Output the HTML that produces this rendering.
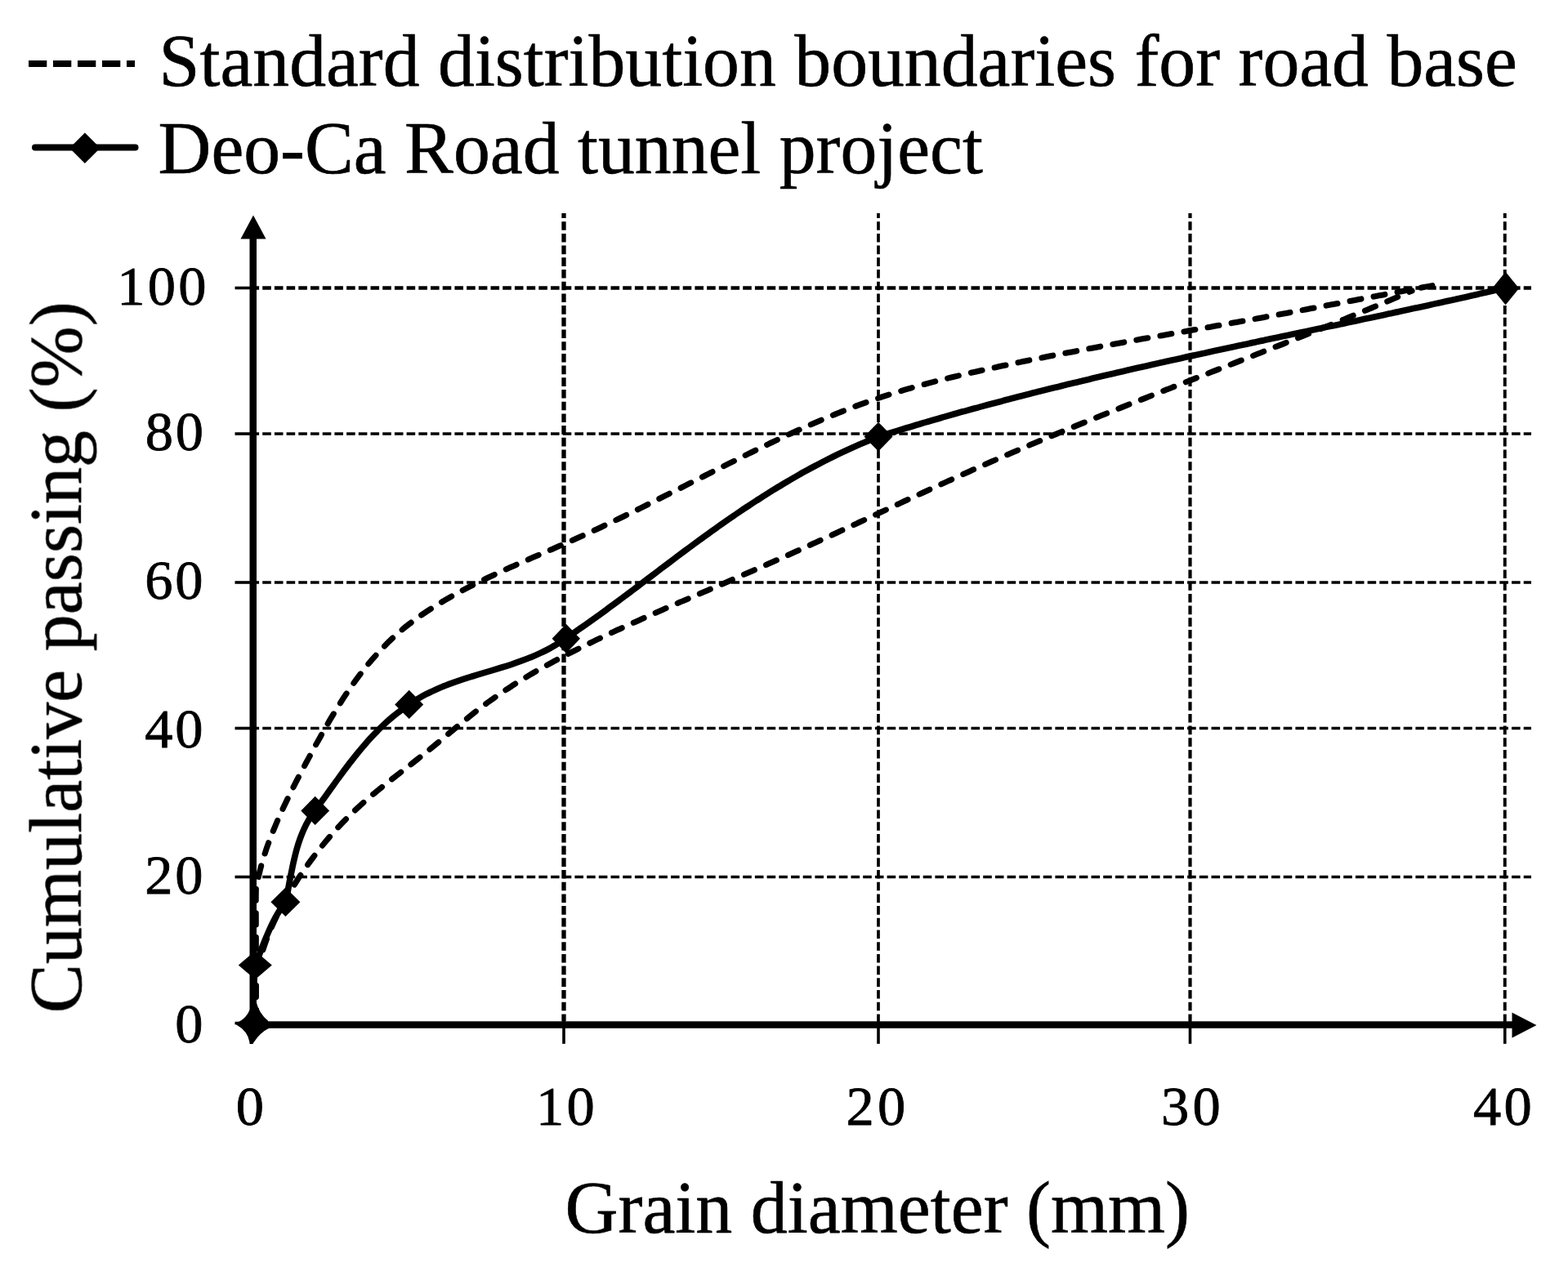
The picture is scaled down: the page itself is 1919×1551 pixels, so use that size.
<!DOCTYPE html>
<html lang="en"><head><meta charset="utf-8"><title>Grain size distribution</title>
<style>html,body{margin:0;padding:0;background:#fff}body{width:1919px;height:1551px;overflow:hidden}svg{display:block}text{font-family:"Liberation Serif",serif;fill:#000}</style>
</head><body>
<svg width="1919" height="1551" viewBox="0 0 1919 1551">
<defs><filter id="soft" x="0" y="0" width="1919" height="1551" filterUnits="userSpaceOnUse" color-interpolation-filters="sRGB"><feGaussianBlur stdDeviation="0.75"/></filter></defs>
<rect width="1919" height="1551" fill="#fff"/>
<g id="chart" filter="url(#soft)">
<g id="legend">
<line x1="35" y1="77.9" x2="165" y2="77.9" stroke="#000" stroke-width="8" stroke-dasharray="22.3 7.7"/>
<line x1="43" y1="180.5" x2="165.5" y2="180.5" stroke="#000" stroke-width="8" stroke-linecap="round"/>
<g fill="#000"><path d="M103.9 162.4 L122.7 181.2 L103.9 200.0 L85.1 181.2 Z"/></g>
<text transform="translate(194.60 104.60) scale(1 1.01)" font-size="89.75" stroke="#000" stroke-width="0.6" stroke-linejoin="round">Standard distribution boundaries for road base</text>
<text transform="translate(193.60 212.30) scale(1 1.01)" font-size="89.75" stroke="#000" stroke-width="0.6" stroke-linejoin="round">Deo-Ca Road tunnel project</text>
</g>
<g id="grid" stroke="#000" stroke-width="3.2" fill="none" stroke-dasharray="10.6 4.1">
<line x1="690.00" y1="261" x2="690.00" y2="1250" stroke-dashoffset="4.5" stroke-width="5.3"/>
<line x1="1075.00" y1="261" x2="1075.00" y2="1250" stroke-dashoffset="4.5" stroke-width="3.7"/>
<line x1="1456.50" y1="261" x2="1456.50" y2="1250" stroke-dashoffset="4.5" stroke-width="4.2"/>
<line x1="1841.75" y1="261" x2="1841.75" y2="1250" stroke-dashoffset="4.5" stroke-width="3.9"/>
<line x1="306.5" y1="352.50" x2="1874" y2="352.50" stroke-width="4.5"/>
<line x1="306.5" y1="531.00" x2="1874" y2="531.00" stroke-width="3.5"/>
<line x1="306.5" y1="713.00" x2="1874" y2="713.00" stroke-width="3.3"/>
<line x1="306.5" y1="891.50" x2="1874" y2="891.50" stroke-width="3.3"/>
<line x1="306.5" y1="1073.50" x2="1874" y2="1073.50" stroke-width="3.3"/>
</g>
<g id="ticks" stroke="#000" stroke-width="3.6" fill="none">
<line x1="287.5" y1="352.50" x2="310" y2="352.50" />
<line x1="287.5" y1="531.00" x2="310" y2="531.00" />
<line x1="287.5" y1="713.00" x2="310" y2="713.00" />
<line x1="287.5" y1="891.50" x2="310" y2="891.50" />
<line x1="287.5" y1="1073.50" x2="310" y2="1073.50" />
<line x1="287.5" y1="1252.50" x2="310" y2="1252.50" />
<line x1="307.50" y1="1250" x2="307.50" y2="1277.8" />
<line x1="690.00" y1="1250" x2="690.00" y2="1277.8" />
<line x1="1075.00" y1="1250" x2="1075.00" y2="1277.8" />
<line x1="1456.50" y1="1250" x2="1456.50" y2="1277.8" />
<line x1="1841.75" y1="1250" x2="1841.75" y2="1277.8" />
</g>
<g id="axes" stroke="#000" stroke-width="8.5" fill="none">
<line x1="309.75" y1="288" x2="309.75" y2="1258.6" />
<line x1="305.65" y1="1254.5" x2="1853" y2="1254.5" />
</g>
<g id="arrows" fill="#000">
<path d="M310.00 263.5 L325.5 292.5 L294.5 292.5 Z"/>
<path d="M1880.5 1255 L1850.5 1239.5 L1850.5 1270.5 Z"/>
</g>
<g id="ylabels">
<text transform="translate(143.20 372.90)" font-size="68.5" letter-spacing="3.25" stroke="#000" stroke-width="0.8" stroke-linejoin="round">100</text>
<text transform="translate(177.80 551.00)" font-size="68.5" letter-spacing="2.75" stroke="#000" stroke-width="0.8" stroke-linejoin="round">80</text>
<text transform="translate(177.30 733.30)" font-size="68.5" letter-spacing="2.75" stroke="#000" stroke-width="0.8" stroke-linejoin="round">60</text>
<text transform="translate(177.30 915.10)" font-size="68.5" letter-spacing="2.75" stroke="#000" stroke-width="0.8" stroke-linejoin="round">40</text>
<text transform="translate(177.30 1094.20)" font-size="68.5" letter-spacing="2.75" stroke="#000" stroke-width="0.8" stroke-linejoin="round">20</text>
<text transform="translate(214.30 1276.10)" font-size="68.5" stroke="#000" stroke-width="0.8" stroke-linejoin="round">0</text>
</g>
<g id="xlabels">
<text transform="translate(288.65 1376.80)" font-size="68.5" stroke="#000" stroke-width="0.8" stroke-linejoin="round">0</text>
<text transform="translate(655.90 1376.80)" font-size="68.5" letter-spacing="3.25" stroke="#000" stroke-width="0.8" stroke-linejoin="round">10</text>
<text transform="translate(1035.40 1376.80)" font-size="68.5" letter-spacing="4.25" stroke="#000" stroke-width="0.8" stroke-linejoin="round">20</text>
<text transform="translate(1420.90 1376.80)" font-size="68.5" letter-spacing="4.25" stroke="#000" stroke-width="0.8" stroke-linejoin="round">30</text>
<text transform="translate(1802.90 1376.80)" font-size="68.5" letter-spacing="3.25" stroke="#000" stroke-width="0.8" stroke-linejoin="round">40</text>
</g>
<text transform="translate(1073.75 1508.90) scale(1 1.01)" font-size="90" text-anchor="middle" stroke="#000" stroke-width="0.6" stroke-linejoin="round">Grain diameter (mm)</text>
<text transform="translate(99.00 804.75) rotate(-90) scale(1 1.01)" font-size="90.1" text-anchor="middle" stroke="#000" stroke-width="0.6" stroke-linejoin="round">Cumulative passing (%)</text>
<g id="curves" fill="none" stroke="#000" stroke-linejoin="round">
<path d="M313.3 1254.0 C313.3 1236.7 313.3 1177.3 313.3 1150.0 C313.3 1122.7 313.0 1102.0 313.3 1090.0 C313.6 1078.0 314.6 1082.1 315.4 1078.2 C316.1 1074.2 317.0 1070.3 318.0 1066.5 C318.9 1062.6 319.9 1058.8 321.0 1055.0 C322.1 1051.1 323.3 1047.3 324.6 1043.6 C325.8 1039.8 327.1 1036.0 328.5 1032.3 C329.8 1028.6 331.2 1024.9 332.7 1021.1 C334.2 1017.4 335.7 1013.8 337.3 1010.1 C338.8 1006.4 340.4 1002.7 342.1 999.1 C343.7 995.4 345.4 991.8 347.1 988.1 C348.8 984.5 350.5 980.9 352.3 977.2 C354.0 973.6 355.8 970.0 357.6 966.4 C359.5 962.8 361.3 959.2 363.1 955.6 C365.0 952.0 366.9 948.4 368.8 944.8 C370.7 941.2 372.6 937.6 374.5 934.0 C376.4 930.5 378.4 926.9 380.3 923.3 C382.2 919.7 384.2 916.1 386.1 912.6 C388.1 909.0 390.1 905.4 392.1 901.9 C394.0 898.3 396.0 894.8 398.1 891.3 C400.1 887.7 402.1 884.2 404.2 880.7 C406.3 877.2 408.3 873.7 410.5 870.3 C412.6 866.8 414.7 863.4 416.9 860.0 C419.0 856.6 421.2 853.2 423.5 849.8 C425.7 846.5 428.0 843.1 430.3 839.9 C432.6 836.6 434.9 833.3 437.3 830.1 C439.7 826.9 442.1 823.7 444.6 820.6 C447.0 817.4 449.5 814.3 452.1 811.3 C454.6 808.2 457.2 805.2 459.9 802.3 C462.5 799.3 465.2 796.4 468.0 793.5 C470.7 790.7 473.5 787.9 476.3 785.1 C479.2 782.4 482.0 779.7 485.0 777.1 C487.9 774.4 490.9 771.9 494.0 769.3 C497.0 766.8 500.2 764.4 503.3 762.0 C506.5 759.6 509.7 757.2 512.9 754.9 C516.1 752.6 519.4 750.4 522.7 748.2 C526.1 746.0 529.4 743.9 532.8 741.8 C536.2 739.6 539.6 737.6 543.1 735.6 C546.5 733.5 550.0 731.5 553.5 729.6 C557.0 727.6 560.5 725.7 564.1 723.8 C567.6 721.9 571.2 720.1 574.8 718.2 C578.3 716.4 581.9 714.6 585.6 712.8 C589.2 711.0 592.8 709.3 596.4 707.5 C600.1 705.8 603.7 704.1 607.4 702.4 C611.1 700.7 614.8 699.0 618.4 697.3 C622.1 695.7 625.8 694.0 629.5 692.4 C633.2 690.7 636.9 689.1 640.6 687.5 C644.4 685.8 648.1 684.2 651.8 682.6 C655.5 681.0 659.2 679.4 663.0 677.8 C666.7 676.2 670.4 674.6 674.1 673.0 C677.8 671.4 681.5 669.7 685.3 668.1 C689.0 666.5 692.7 664.9 696.4 663.2 C700.1 661.6 703.8 660.0 707.5 658.3 C711.1 656.7 714.8 655.0 718.5 653.3 C722.1 651.6 725.8 650.0 729.5 648.3 C733.1 646.6 736.8 644.8 740.4 643.1 C744.0 641.4 747.7 639.7 751.3 637.9 C754.9 636.2 758.5 634.5 762.1 632.7 C765.8 630.9 769.4 629.2 773.0 627.4 C776.6 625.6 780.2 623.9 783.8 622.1 C787.4 620.3 791.0 618.5 794.5 616.7 C798.1 614.9 801.7 613.1 805.3 611.3 C808.9 609.5 812.5 607.7 816.0 605.9 C819.6 604.1 823.2 602.3 826.8 600.5 C830.4 598.7 833.9 596.9 837.5 595.1 C841.1 593.2 844.7 591.4 848.2 589.6 C851.8 587.8 855.4 586.0 859.0 584.2 C862.5 582.3 866.1 580.5 869.7 578.7 C873.3 576.9 876.9 575.1 880.5 573.3 C884.0 571.5 887.6 569.7 891.2 567.9 C894.8 566.1 898.4 564.3 902.0 562.5 C905.6 560.7 909.2 558.9 912.8 557.1 C916.4 555.3 920.0 553.5 923.6 551.8 C927.3 550.0 930.9 548.2 934.5 546.5 C938.1 544.7 941.8 543.0 945.4 541.2 C949.1 539.5 952.7 537.8 956.4 536.1 C960.0 534.4 963.7 532.7 967.3 531.0 C971.0 529.3 974.6 527.6 978.3 526.0 C982.0 524.3 985.7 522.6 989.4 521.0 C993.1 519.4 996.8 517.8 1000.5 516.2 C1004.2 514.6 1007.9 513.0 1011.6 511.5 C1015.3 509.9 1019.0 508.4 1022.7 506.9 C1026.5 505.3 1030.2 503.9 1034.0 502.4 C1037.7 500.9 1041.5 499.5 1045.2 498.0 C1049.0 496.6 1052.8 495.2 1056.5 493.9 C1060.3 492.5 1064.1 491.1 1067.9 489.8 C1071.7 488.5 1075.5 487.2 1079.3 485.9 C1083.1 484.7 1086.9 483.4 1090.8 482.2 C1094.6 481.0 1098.4 479.9 1102.3 478.7 C1106.1 477.5 1110.0 476.4 1113.8 475.3 C1117.7 474.2 1121.6 473.1 1125.4 472.0 C1129.3 471.0 1133.2 469.9 1137.1 468.9 C1141.0 467.9 1144.9 466.8 1148.8 465.9 C1152.6 464.9 1156.5 463.9 1160.5 462.9 C1164.4 462.0 1168.3 461.0 1172.2 460.1 C1176.1 459.2 1180.0 458.2 1183.9 457.3 C1187.8 456.4 1191.8 455.5 1195.7 454.7 C1199.6 453.8 1203.5 452.9 1207.5 452.0 C1211.4 451.2 1215.3 450.3 1219.3 449.5 C1223.2 448.6 1227.1 447.8 1231.1 447.0 C1235.0 446.1 1238.9 445.3 1242.9 444.5 C1246.8 443.7 1250.7 442.8 1254.7 442.0 C1258.6 441.2 1262.6 440.4 1266.5 439.6 C1270.4 438.8 1274.4 438.1 1278.3 437.3 C1282.3 436.5 1286.2 435.7 1290.2 434.9 C1294.1 434.2 1298.1 433.4 1302.0 432.6 C1306.0 431.9 1309.9 431.1 1313.9 430.4 C1317.8 429.6 1321.8 428.9 1325.7 428.1 C1329.7 427.4 1333.6 426.6 1337.6 425.9 C1341.5 425.2 1345.5 424.4 1349.5 423.7 C1353.4 423.0 1357.4 422.3 1361.3 421.5 C1365.3 420.8 1369.2 420.1 1373.2 419.4 C1377.2 418.7 1381.1 418.0 1385.1 417.2 C1389.0 416.5 1393.0 415.8 1397.0 415.1 C1400.9 414.4 1404.9 413.7 1408.8 413.0 C1412.8 412.3 1416.8 411.6 1420.7 410.9 C1424.7 410.2 1428.7 409.5 1432.6 408.8 C1436.6 408.1 1440.5 407.4 1444.5 406.7 C1448.5 406.0 1452.4 405.3 1456.4 404.6 C1460.3 403.9 1464.3 403.2 1468.3 402.5 C1472.2 401.8 1476.2 401.1 1480.2 400.4 C1484.1 399.7 1488.1 399.0 1492.0 398.3 C1496.0 397.6 1500.0 396.9 1503.9 396.2 C1507.9 395.5 1511.8 394.7 1515.8 394.0 C1519.8 393.3 1523.7 392.6 1527.7 391.9 C1531.6 391.2 1535.6 390.5 1539.6 389.7 C1543.5 389.0 1547.5 388.3 1551.4 387.6 C1555.4 386.8 1559.3 386.1 1563.3 385.4 C1567.2 384.6 1571.2 383.9 1575.2 383.2 C1579.1 382.4 1583.1 381.7 1587.0 380.9 C1591.0 380.2 1594.9 379.5 1598.9 378.7 C1602.8 378.0 1606.8 377.2 1610.7 376.5 C1614.7 375.7 1618.6 375.0 1622.6 374.2 C1626.5 373.5 1630.5 372.7 1634.4 372.0 C1638.4 371.2 1642.3 370.5 1646.3 369.7 C1650.2 369.0 1654.2 368.2 1658.1 367.4 C1662.1 366.7 1666.0 365.9 1670.0 365.2 C1673.9 364.4 1677.9 363.7 1681.8 362.9 C1685.8 362.2 1689.7 361.4 1693.7 360.7 C1697.6 359.9 1701.6 359.2 1705.5 358.4 C1709.5 357.7 1713.4 356.9 1717.4 356.2 C1721.4 355.5 1725.3 354.7 1729.3 354.0 C1733.2 353.3 1737.2 352.5 1741.1 351.8 C1745.1 351.1 1751.0 350.0 1753.0 349.6" stroke-width="7.1" stroke-dasharray="14 15.5" stroke-linecap="round" stroke-dashoffset="-4"/>
<path d="M313.3 1254.0 C313.3 1245.0 313.0 1210.9 313.3 1200.0 C313.6 1189.1 314.5 1192.3 315.2 1188.4 C316.0 1184.5 316.8 1180.7 317.8 1176.9 C318.7 1173.1 319.8 1169.3 321.0 1165.5 C322.1 1161.7 323.4 1157.9 324.7 1154.2 C326.0 1150.4 327.5 1146.7 329.0 1143.0 C330.5 1139.3 332.0 1135.6 333.7 1132.0 C335.3 1128.3 337.1 1124.7 338.8 1121.1 C340.6 1117.4 342.5 1113.9 344.4 1110.3 C346.3 1106.7 348.2 1103.2 350.2 1099.7 C352.2 1096.2 354.3 1092.7 356.4 1089.3 C358.5 1085.8 360.6 1082.4 362.8 1079.0 C364.9 1075.7 367.1 1072.3 369.4 1069.0 C371.6 1065.7 373.9 1062.4 376.2 1059.1 C378.5 1055.9 380.9 1052.7 383.3 1049.5 C385.6 1046.3 388.1 1043.1 390.5 1040.0 C393.0 1036.9 395.5 1033.8 398.1 1030.7 C400.6 1027.7 403.2 1024.7 405.8 1021.7 C408.4 1018.7 411.1 1015.7 413.8 1012.8 C416.5 1009.9 419.2 1007.0 422.0 1004.2 C424.8 1001.4 427.6 998.6 430.5 995.8 C433.3 993.0 436.2 990.3 439.2 987.6 C442.1 984.9 445.1 982.2 448.1 979.6 C451.1 977.0 454.2 974.4 457.3 971.8 C460.3 969.3 463.4 966.7 466.6 964.2 C469.7 961.7 472.8 959.2 476.0 956.7 C479.1 954.2 482.3 951.7 485.5 949.2 C488.7 946.8 491.9 944.3 495.0 941.8 C498.2 939.3 501.4 936.9 504.6 934.4 C507.8 931.9 510.9 929.4 514.1 926.9 C517.2 924.4 520.4 921.9 523.5 919.4 C526.6 916.9 529.7 914.3 532.8 911.7 C535.9 909.2 539.0 906.6 542.1 904.0 C545.2 901.5 548.2 898.9 551.3 896.3 C554.4 893.7 557.4 891.2 560.5 888.6 C563.6 886.1 566.7 883.5 569.8 881.0 C572.9 878.5 576.0 876.0 579.1 873.5 C582.2 871.0 585.4 868.6 588.6 866.1 C591.7 863.7 594.9 861.4 598.2 859.0 C601.4 856.7 604.7 854.4 607.9 852.1 C611.2 849.8 614.5 847.6 617.8 845.4 C621.2 843.1 624.5 841.0 627.9 838.8 C631.3 836.7 634.6 834.6 638.1 832.5 C641.5 830.4 644.9 828.3 648.3 826.3 C651.8 824.2 655.3 822.2 658.7 820.2 C662.2 818.3 665.7 816.3 669.2 814.4 C672.7 812.4 676.3 810.5 679.8 808.6 C683.3 806.7 686.9 804.9 690.5 803.0 C694.0 801.2 697.6 799.3 701.2 797.5 C704.8 795.7 708.3 793.9 711.9 792.1 C715.5 790.3 719.2 788.6 722.8 786.8 C726.4 785.0 730.0 783.3 733.6 781.6 C737.2 779.9 740.9 778.1 744.5 776.4 C748.1 774.7 751.8 773.0 755.4 771.3 C759.1 769.7 762.7 768.0 766.4 766.3 C770.0 764.7 773.7 763.0 777.3 761.4 C781.0 759.7 784.6 758.1 788.3 756.4 C791.9 754.8 795.6 753.2 799.3 751.6 C802.9 749.9 806.6 748.3 810.3 746.7 C813.9 745.1 817.6 743.5 821.3 741.9 C825.0 740.3 828.6 738.7 832.3 737.1 C836.0 735.5 839.7 734.0 843.3 732.4 C847.0 730.8 850.7 729.2 854.4 727.6 C858.1 726.0 861.7 724.5 865.4 722.9 C869.1 721.3 872.8 719.7 876.5 718.1 C880.1 716.5 883.8 715.0 887.5 713.4 C891.2 711.8 894.8 710.2 898.5 708.6 C902.2 707.0 905.9 705.4 909.5 703.8 C913.2 702.2 916.9 700.6 920.6 699.0 C924.2 697.4 927.9 695.8 931.6 694.2 C935.2 692.6 938.9 691.0 942.5 689.3 C946.2 687.7 949.9 686.1 953.5 684.4 C957.2 682.8 960.8 681.2 964.5 679.5 C968.1 677.9 971.8 676.2 975.4 674.6 C979.1 672.9 982.7 671.2 986.4 669.6 C990.0 667.9 993.6 666.2 997.3 664.6 C1000.9 662.9 1004.6 661.2 1008.2 659.5 C1011.8 657.8 1015.5 656.2 1019.1 654.5 C1022.7 652.8 1026.4 651.1 1030.0 649.4 C1033.7 647.7 1037.3 646.0 1040.9 644.3 C1044.6 642.6 1048.2 641.0 1051.8 639.3 C1055.5 637.6 1059.1 635.9 1062.7 634.2 C1066.3 632.5 1070.0 630.8 1073.6 629.1 C1077.2 627.4 1080.9 625.7 1084.5 624.0 C1088.1 622.3 1091.8 620.6 1095.4 618.9 C1099.0 617.2 1102.7 615.5 1106.3 613.8 C1109.9 612.1 1113.6 610.4 1117.2 608.8 C1120.8 607.1 1124.5 605.4 1128.1 603.7 C1131.8 602.0 1135.4 600.3 1139.0 598.7 C1142.7 597.0 1146.3 595.3 1150.0 593.6 C1153.6 592.0 1157.3 590.3 1160.9 588.6 C1164.6 587.0 1168.2 585.3 1171.8 583.7 C1175.5 582.0 1179.2 580.3 1182.8 578.7 C1186.5 577.1 1190.1 575.4 1193.8 573.8 C1197.4 572.2 1201.1 570.5 1204.8 568.9 C1208.4 567.3 1212.1 565.7 1215.8 564.1 C1219.4 562.4 1223.1 560.8 1226.8 559.2 C1230.5 557.6 1234.1 556.1 1237.8 554.5 C1241.5 552.9 1245.2 551.3 1248.9 549.7 C1252.5 548.2 1256.2 546.6 1259.9 545.0 C1263.6 543.5 1267.3 541.9 1271.0 540.3 C1274.7 538.8 1278.4 537.2 1282.1 535.7 C1285.8 534.1 1289.5 532.6 1293.2 531.1 C1296.9 529.5 1300.6 528.0 1304.3 526.5 C1308.0 525.0 1311.7 523.4 1315.4 521.9 C1319.1 520.4 1322.8 518.9 1326.5 517.4 C1330.3 515.9 1334.0 514.3 1337.7 512.8 C1341.4 511.3 1345.1 509.8 1348.8 508.3 C1352.5 506.8 1356.3 505.3 1360.0 503.9 C1363.7 502.4 1367.4 500.9 1371.1 499.4 C1374.9 497.9 1378.6 496.4 1382.3 494.9 C1386.0 493.5 1389.8 492.0 1393.5 490.5 C1397.2 489.0 1400.9 487.5 1404.7 486.1 C1408.4 484.6 1412.1 483.1 1415.9 481.7 C1419.6 480.2 1423.3 478.7 1427.0 477.2 C1430.8 475.8 1434.5 474.3 1438.2 472.9 C1442.0 471.4 1445.7 469.9 1449.4 468.5 C1453.2 467.0 1456.9 465.5 1460.6 464.1 C1464.3 462.6 1468.1 461.1 1471.8 459.7 C1475.5 458.2 1479.3 456.8 1483.0 455.3 C1486.7 453.8 1490.5 452.4 1494.2 450.9 C1497.9 449.5 1501.7 448.0 1505.4 446.5 C1509.1 445.1 1512.9 443.6 1516.6 442.1 C1520.3 440.7 1524.0 439.2 1527.8 437.7 C1531.5 436.3 1535.2 434.8 1539.0 433.3 C1542.7 431.9 1546.4 430.4 1550.1 428.9 C1553.9 427.5 1557.6 426.0 1561.3 424.5 C1565.1 423.0 1568.8 421.6 1572.5 420.1 C1576.2 418.6 1579.9 417.1 1583.7 415.6 C1587.4 414.2 1591.1 412.7 1594.8 411.2 C1598.5 409.7 1602.3 408.2 1606.0 406.7 C1609.7 405.2 1613.4 403.7 1617.1 402.2 C1620.8 400.7 1624.6 399.2 1628.3 397.7 C1632.0 396.2 1635.7 394.7 1639.4 393.2 C1643.1 391.7 1646.8 390.1 1650.5 388.6 C1654.2 387.1 1657.9 385.6 1661.6 384.0 C1665.3 382.5 1669.0 381.0 1672.7 379.4 C1676.4 377.9 1680.1 376.4 1683.8 374.8 C1687.5 373.3 1691.2 371.7 1694.9 370.2 C1698.6 368.6 1702.2 367.0 1705.9 365.5 C1709.6 363.9 1713.3 362.3 1717.0 360.8 C1720.6 359.2 1726.2 356.8 1728.0 356.0" stroke-width="7.1" stroke-dasharray="14 15.5" stroke-linecap="round" stroke-dashoffset="-4"/>
<path d="M309.5 1254.0 C309.7 1247.5 310.0 1227.1 310.5 1215.0 C311.0 1202.9 311.2 1189.1 312.3 1181.6 C313.4 1174.1 315.3 1174.0 316.8 1170.2 C318.3 1166.4 319.7 1162.5 321.2 1158.7 C322.7 1154.9 324.2 1151.0 325.8 1147.3 C327.4 1143.5 329.0 1139.7 330.7 1136.0 C332.4 1132.3 334.2 1128.6 336.1 1125.0 C338.1 1121.4 340.1 1117.8 342.3 1114.4 C344.5 1110.9 347.8 1108.1 349.4 1104.3 C351.0 1100.5 351.2 1095.8 352.1 1091.5 C352.9 1087.2 353.7 1082.8 354.5 1078.5 C355.4 1074.1 356.2 1069.8 357.1 1065.4 C358.0 1061.1 358.8 1056.8 359.9 1052.5 C360.9 1048.2 361.9 1043.9 363.1 1039.7 C364.3 1035.4 365.6 1031.2 367.1 1027.1 C368.6 1023.0 370.2 1019.0 372.0 1015.0 C373.8 1011.0 375.8 1007.1 378.1 1003.3 C380.3 999.6 383.0 995.8 385.5 992.3 C388.0 988.8 390.4 985.6 392.8 982.3 C395.3 978.9 397.7 975.6 400.1 972.2 C402.5 968.8 404.9 965.4 407.4 962.1 C409.8 958.7 412.2 955.3 414.7 952.0 C417.2 948.6 419.6 945.2 422.1 941.9 C424.6 938.6 427.1 935.3 429.7 932.0 C432.2 928.7 434.8 925.4 437.4 922.2 C440.0 919.0 442.7 915.8 445.4 912.7 C448.1 909.5 450.8 906.4 453.6 903.4 C456.4 900.3 459.2 897.3 462.2 894.4 C465.1 891.4 468.1 888.5 471.1 885.7 C474.2 882.9 477.3 880.2 480.5 877.5 C483.7 874.9 486.9 872.3 490.3 869.8 C493.6 867.3 497.2 864.8 500.6 862.5 C504.0 860.2 507.5 857.9 511.0 855.7 C514.5 853.6 518.1 851.6 521.7 849.7 C525.3 847.8 529.0 846.1 532.7 844.4 C536.4 842.7 540.2 841.1 544.0 839.6 C547.7 838.1 551.6 836.7 555.4 835.3 C559.3 834.0 563.1 832.7 567.0 831.4 C570.9 830.1 574.9 828.9 578.8 827.7 C582.7 826.5 586.7 825.3 590.6 824.1 C594.5 822.9 598.5 821.8 602.4 820.6 C606.4 819.4 610.3 818.2 614.2 817.0 C618.2 815.8 622.1 814.6 626.0 813.3 C629.9 812.0 633.8 810.6 637.6 809.2 C641.5 807.8 645.3 806.4 649.1 804.8 C652.9 803.3 656.7 801.7 660.4 799.9 C664.1 798.2 667.8 796.4 671.4 794.5 C675.0 792.5 678.6 790.5 682.1 788.3 C685.6 786.1 689.1 783.6 692.5 781.3 C695.9 779.0 699.1 776.8 702.4 774.6 C705.7 772.3 709.0 770.0 712.3 767.8 C715.6 765.5 718.8 763.2 722.1 760.8 C725.4 758.5 728.6 756.2 731.9 753.8 C735.1 751.5 738.4 749.2 741.6 746.8 C744.8 744.4 748.0 742.1 751.3 739.7 C754.5 737.3 757.7 734.9 760.9 732.5 C764.1 730.1 767.3 727.7 770.5 725.3 C773.7 722.9 776.9 720.5 780.1 718.1 C783.3 715.7 786.5 713.2 789.7 710.8 C792.9 708.4 796.1 706.0 799.3 703.6 C802.5 701.2 805.7 698.7 808.9 696.3 C812.1 693.9 815.3 691.5 818.5 689.1 C821.7 686.7 824.9 684.2 828.1 681.8 C831.3 679.4 834.5 677.0 837.7 674.6 C840.9 672.3 844.2 669.9 847.4 667.5 C850.6 665.1 853.8 662.7 857.1 660.4 C860.3 658.0 863.5 655.7 866.8 653.3 C870.0 651.0 873.3 648.7 876.6 646.3 C879.8 644.0 883.1 641.7 886.4 639.4 C889.6 637.1 892.9 634.9 896.2 632.6 C899.5 630.3 902.8 628.1 906.1 625.9 C909.4 623.6 912.8 621.4 916.1 619.2 C919.4 617.0 922.8 614.8 926.1 612.6 C929.5 610.5 932.8 608.3 936.2 606.2 C939.6 604.0 943.0 601.9 946.4 599.8 C949.8 597.7 953.2 595.6 956.6 593.6 C960.0 591.5 963.5 589.5 966.9 587.5 C970.4 585.5 973.8 583.5 977.3 581.5 C980.8 579.5 984.3 577.6 987.8 575.7 C991.3 573.7 994.8 571.8 998.3 570.0 C1001.9 568.1 1005.4 566.2 1009.0 564.4 C1012.5 562.6 1016.1 560.8 1019.7 559.0 C1023.3 557.2 1026.9 555.5 1030.6 553.8 C1034.2 552.1 1037.8 550.4 1041.5 548.7 C1045.2 547.1 1048.9 545.4 1052.6 543.8 C1056.3 542.2 1060.0 540.7 1063.7 539.1 C1067.5 537.6 1071.2 536.0 1075.0 534.6 C1078.8 533.2 1082.7 532.2 1086.6 531.0 C1090.4 529.8 1094.3 528.6 1098.2 527.4 C1102.0 526.2 1105.9 525.0 1109.8 523.8 C1113.7 522.7 1117.5 521.5 1121.4 520.3 C1125.3 519.2 1129.2 518.0 1133.0 516.9 C1136.9 515.7 1140.8 514.6 1144.7 513.5 C1148.6 512.4 1152.5 511.2 1156.3 510.1 C1160.2 509.0 1164.1 507.9 1168.0 506.8 C1171.9 505.7 1175.8 504.6 1179.7 503.6 C1183.6 502.5 1187.5 501.4 1191.4 500.3 C1195.3 499.3 1199.2 498.2 1203.1 497.1 C1207.0 496.1 1210.9 495.0 1214.8 494.0 C1218.7 492.9 1222.6 491.9 1226.5 490.9 C1230.4 489.8 1234.3 488.8 1238.2 487.8 C1242.1 486.8 1246.1 485.8 1250.0 484.7 C1253.9 483.7 1257.8 482.7 1261.7 481.7 C1265.6 480.7 1269.6 479.8 1273.5 478.8 C1277.4 477.8 1281.3 476.8 1285.2 475.8 C1289.2 474.8 1293.1 473.9 1297.0 472.9 C1300.9 471.9 1304.9 471.0 1308.8 470.0 C1312.7 469.1 1316.6 468.1 1320.6 467.2 C1324.5 466.2 1328.4 465.3 1332.4 464.4 C1336.3 463.4 1340.2 462.5 1344.2 461.6 C1348.1 460.6 1352.0 459.7 1356.0 458.8 C1359.9 457.9 1363.9 456.9 1367.8 456.0 C1371.7 455.1 1375.7 454.2 1379.6 453.3 C1383.6 452.4 1387.5 451.5 1391.4 450.6 C1395.4 449.7 1399.3 448.8 1403.3 447.9 C1407.2 447.0 1411.2 446.1 1415.1 445.2 C1419.1 444.4 1423.0 443.5 1427.0 442.6 C1430.9 441.7 1434.8 440.8 1438.8 440.0 C1442.7 439.1 1446.7 438.2 1450.6 437.3 C1454.6 436.5 1458.5 435.6 1462.5 434.7 C1466.5 433.9 1470.4 433.0 1474.4 432.2 C1478.3 431.3 1482.3 430.4 1486.2 429.6 C1490.2 428.7 1494.1 427.9 1498.1 427.0 C1502.0 426.2 1506.0 425.3 1509.9 424.5 C1513.9 423.6 1517.9 422.8 1521.8 421.9 C1525.8 421.1 1529.7 420.2 1533.7 419.4 C1537.6 418.6 1541.6 417.7 1545.6 416.9 C1549.5 416.0 1553.5 415.2 1557.4 414.3 C1561.4 413.5 1565.3 412.7 1569.3 411.8 C1573.3 411.0 1577.2 410.2 1581.2 409.3 C1585.1 408.5 1589.1 407.6 1593.0 406.8 C1597.0 406.0 1601.0 405.1 1604.9 404.3 C1608.9 403.5 1612.8 402.6 1616.8 401.8 C1620.8 400.9 1624.7 400.1 1628.7 399.3 C1632.6 398.4 1636.6 397.6 1640.5 396.8 C1644.5 395.9 1648.5 395.1 1652.4 394.2 C1656.4 393.4 1660.3 392.6 1664.3 391.7 C1668.2 390.9 1672.2 390.0 1676.2 389.2 C1680.1 388.4 1684.1 387.5 1688.0 386.7 C1692.0 385.8 1695.9 385.0 1699.9 384.1 C1703.8 383.3 1707.8 382.4 1711.8 381.6 C1715.7 380.7 1719.7 379.9 1723.6 379.0 C1727.6 378.2 1731.5 377.3 1735.5 376.4 C1739.4 375.6 1743.4 374.7 1747.3 373.9 C1751.3 373.0 1755.2 372.1 1759.2 371.3 C1763.1 370.4 1767.1 369.5 1771.0 368.6 C1775.0 367.8 1778.9 366.9 1782.9 366.0 C1786.8 365.1 1790.8 364.3 1794.7 363.4 C1798.6 362.5 1802.6 361.6 1806.5 360.7 C1810.5 359.8 1814.4 358.9 1818.4 358.0 C1822.3 357.1 1826.2 356.2 1830.2 355.3 C1834.1 354.4 1840.0 353.1 1842.0 352.6" stroke-width="7.7" stroke-linecap="round"/>
</g>
<g id="markers" fill="#000">
<path d="M287.5 1252.3 L293 1250.4 Q301 1246.5 305.5 1236.5 L309.5 1231 L313.8 1227 Q317 1240.5 328 1249.6 L329.5 1258.6 Q317.5 1264.5 309.3 1278 L305.8 1278 Q304.3 1263 289.5 1254.6 Z"/>
<path d="M312.3 1164.1 L332.8 1181.6 L312.3 1199.1 L291.8 1181.6 Z"/>
<path d="M349.4 1086.5 L367.4 1104.3 L349.4 1122.1 L331.4 1104.3 Z"/>
<path d="M385.7 974.8 L403.1 992.4 L385.7 1010.0 L368.3 992.4 Z"/>
<path d="M500.7 844.8 L518.2 862.4 L500.7 880.0 L483.2 862.4 Z"/>
<path d="M692.8 763.8 L710.0 781.8 L692.8 799.8 L675.6 781.8 Z"/>
<path d="M1075.0 516.8 L1092.5 534.6 L1075.0 552.4 L1057.5 534.6 Z"/>
<path d="M1842.6 332.7 L1859.1 353.0 L1842.6 373.3 L1826.1 353.0 Z"/>
</g>
</g>
</svg>
</body></html>
